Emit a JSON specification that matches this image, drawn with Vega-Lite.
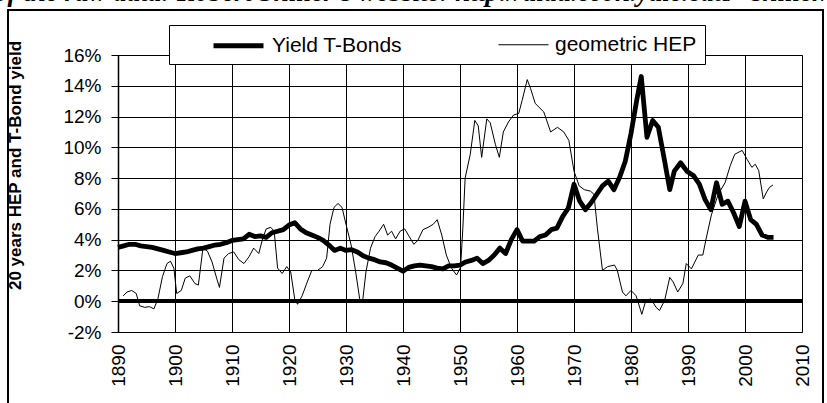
{
  "$schema": "https://vega.github.io/schema/vega-lite/v6.json",
  "width": 684,
  "height": 277,
  "autosize": {"type": "none"},
  "padding": {"left": 118, "top": 55, "right": 25, "bottom": 71},
  "background": "white",
  "title": {
    "text": "of the raw data: Robert Shiller's website: http://aida.econ.yale.edu/~shiller/data.htm",
    "anchor": "start",
    "frame": "bounds",
    "font": "Liberation Serif",
    "fontStyle": "italic",
    "fontWeight": "bold",
    "fontSize": 27,
    "color": "#000",
    "offset": 0,
    "dx": -12,
    "dy": -3
  },
  "data": {
    "values": [
      {"year": 1890, "value": 3.5, "series": "Yield T-Bonds"},
      {"year": 1891, "value": 3.6, "series": "Yield T-Bonds"},
      {"year": 1892, "value": 3.7, "series": "Yield T-Bonds"},
      {"year": 1893, "value": 3.7, "series": "Yield T-Bonds"},
      {"year": 1894, "value": 3.6, "series": "Yield T-Bonds"},
      {"year": 1895, "value": 3.55, "series": "Yield T-Bonds"},
      {"year": 1896, "value": 3.5, "series": "Yield T-Bonds"},
      {"year": 1897, "value": 3.4, "series": "Yield T-Bonds"},
      {"year": 1898, "value": 3.3, "series": "Yield T-Bonds"},
      {"year": 1899, "value": 3.2, "series": "Yield T-Bonds"},
      {"year": 1900, "value": 3.1, "series": "Yield T-Bonds"},
      {"year": 1901, "value": 3.15, "series": "Yield T-Bonds"},
      {"year": 1902, "value": 3.2, "series": "Yield T-Bonds"},
      {"year": 1903, "value": 3.3, "series": "Yield T-Bonds"},
      {"year": 1904, "value": 3.4, "series": "Yield T-Bonds"},
      {"year": 1905, "value": 3.45, "series": "Yield T-Bonds"},
      {"year": 1906, "value": 3.55, "series": "Yield T-Bonds"},
      {"year": 1907, "value": 3.65, "series": "Yield T-Bonds"},
      {"year": 1908, "value": 3.7, "series": "Yield T-Bonds"},
      {"year": 1909, "value": 3.8, "series": "Yield T-Bonds"},
      {"year": 1910, "value": 3.95, "series": "Yield T-Bonds"},
      {"year": 1911, "value": 4.0, "series": "Yield T-Bonds"},
      {"year": 1912, "value": 4.05, "series": "Yield T-Bonds"},
      {"year": 1913, "value": 4.35, "series": "Yield T-Bonds"},
      {"year": 1914, "value": 4.2, "series": "Yield T-Bonds"},
      {"year": 1915, "value": 4.25, "series": "Yield T-Bonds"},
      {"year": 1916, "value": 4.15, "series": "Yield T-Bonds"},
      {"year": 1917, "value": 4.45, "series": "Yield T-Bonds"},
      {"year": 1918, "value": 4.55, "series": "Yield T-Bonds"},
      {"year": 1919, "value": 4.65, "series": "Yield T-Bonds"},
      {"year": 1920, "value": 4.95, "series": "Yield T-Bonds"},
      {"year": 1921, "value": 5.1, "series": "Yield T-Bonds"},
      {"year": 1922, "value": 4.7, "series": "Yield T-Bonds"},
      {"year": 1923, "value": 4.45, "series": "Yield T-Bonds"},
      {"year": 1924, "value": 4.3, "series": "Yield T-Bonds"},
      {"year": 1925, "value": 4.15, "series": "Yield T-Bonds"},
      {"year": 1926, "value": 3.95, "series": "Yield T-Bonds"},
      {"year": 1927, "value": 3.65, "series": "Yield T-Bonds"},
      {"year": 1928, "value": 3.3, "series": "Yield T-Bonds"},
      {"year": 1929, "value": 3.45, "series": "Yield T-Bonds"},
      {"year": 1930, "value": 3.3, "series": "Yield T-Bonds"},
      {"year": 1931, "value": 3.35, "series": "Yield T-Bonds"},
      {"year": 1932, "value": 3.2, "series": "Yield T-Bonds"},
      {"year": 1933, "value": 2.95, "series": "Yield T-Bonds"},
      {"year": 1934, "value": 2.8, "series": "Yield T-Bonds"},
      {"year": 1935, "value": 2.7, "series": "Yield T-Bonds"},
      {"year": 1936, "value": 2.55, "series": "Yield T-Bonds"},
      {"year": 1937, "value": 2.5, "series": "Yield T-Bonds"},
      {"year": 1938, "value": 2.35, "series": "Yield T-Bonds"},
      {"year": 1939, "value": 2.15, "series": "Yield T-Bonds"},
      {"year": 1940, "value": 1.95, "series": "Yield T-Bonds"},
      {"year": 1941, "value": 2.2, "series": "Yield T-Bonds"},
      {"year": 1942, "value": 2.3, "series": "Yield T-Bonds"},
      {"year": 1943, "value": 2.35, "series": "Yield T-Bonds"},
      {"year": 1944, "value": 2.3, "series": "Yield T-Bonds"},
      {"year": 1945, "value": 2.25, "series": "Yield T-Bonds"},
      {"year": 1946, "value": 2.15, "series": "Yield T-Bonds"},
      {"year": 1947, "value": 2.1, "series": "Yield T-Bonds"},
      {"year": 1948, "value": 2.3, "series": "Yield T-Bonds"},
      {"year": 1949, "value": 2.3, "series": "Yield T-Bonds"},
      {"year": 1950, "value": 2.35, "series": "Yield T-Bonds"},
      {"year": 1951, "value": 2.55, "series": "Yield T-Bonds"},
      {"year": 1952, "value": 2.65, "series": "Yield T-Bonds"},
      {"year": 1953, "value": 2.8, "series": "Yield T-Bonds"},
      {"year": 1954, "value": 2.45, "series": "Yield T-Bonds"},
      {"year": 1955, "value": 2.65, "series": "Yield T-Bonds"},
      {"year": 1956, "value": 3.0, "series": "Yield T-Bonds"},
      {"year": 1957, "value": 3.45, "series": "Yield T-Bonds"},
      {"year": 1958, "value": 3.1, "series": "Yield T-Bonds"},
      {"year": 1959, "value": 4.0, "series": "Yield T-Bonds"},
      {"year": 1960, "value": 4.65, "series": "Yield T-Bonds"},
      {"year": 1961, "value": 3.9, "series": "Yield T-Bonds"},
      {"year": 1962, "value": 3.9, "series": "Yield T-Bonds"},
      {"year": 1963, "value": 3.9, "series": "Yield T-Bonds"},
      {"year": 1964, "value": 4.2, "series": "Yield T-Bonds"},
      {"year": 1965, "value": 4.3, "series": "Yield T-Bonds"},
      {"year": 1966, "value": 4.65, "series": "Yield T-Bonds"},
      {"year": 1967, "value": 4.75, "series": "Yield T-Bonds"},
      {"year": 1968, "value": 5.5, "series": "Yield T-Bonds"},
      {"year": 1969, "value": 6.05, "series": "Yield T-Bonds"},
      {"year": 1970, "value": 7.6, "series": "Yield T-Bonds"},
      {"year": 1971, "value": 6.5, "series": "Yield T-Bonds"},
      {"year": 1972, "value": 5.95, "series": "Yield T-Bonds"},
      {"year": 1973, "value": 6.4, "series": "Yield T-Bonds"},
      {"year": 1974, "value": 6.95, "series": "Yield T-Bonds"},
      {"year": 1975, "value": 7.5, "series": "Yield T-Bonds"},
      {"year": 1976, "value": 7.8, "series": "Yield T-Bonds"},
      {"year": 1977, "value": 7.25, "series": "Yield T-Bonds"},
      {"year": 1978, "value": 8.05, "series": "Yield T-Bonds"},
      {"year": 1979, "value": 9.1, "series": "Yield T-Bonds"},
      {"year": 1980, "value": 10.9, "series": "Yield T-Bonds"},
      {"year": 1981, "value": 13.05, "series": "Yield T-Bonds"},
      {"year": 1981.8, "value": 14.6, "series": "Yield T-Bonds"},
      {"year": 1982.8, "value": 10.65, "series": "Yield T-Bonds"},
      {"year": 1983.8, "value": 11.75, "series": "Yield T-Bonds"},
      {"year": 1984.8, "value": 11.3, "series": "Yield T-Bonds"},
      {"year": 1985.9, "value": 9.1, "series": "Yield T-Bonds"},
      {"year": 1986.8, "value": 7.25, "series": "Yield T-Bonds"},
      {"year": 1987.6, "value": 8.45, "series": "Yield T-Bonds"},
      {"year": 1988.7, "value": 9.0, "series": "Yield T-Bonds"},
      {"year": 1989.8, "value": 8.45, "series": "Yield T-Bonds"},
      {"year": 1991, "value": 8.15, "series": "Yield T-Bonds"},
      {"year": 1992, "value": 7.6, "series": "Yield T-Bonds"},
      {"year": 1993, "value": 6.6, "series": "Yield T-Bonds"},
      {"year": 1994, "value": 5.95, "series": "Yield T-Bonds"},
      {"year": 1995, "value": 7.7, "series": "Yield T-Bonds"},
      {"year": 1996, "value": 6.3, "series": "Yield T-Bonds"},
      {"year": 1997, "value": 6.5, "series": "Yield T-Bonds"},
      {"year": 1998, "value": 5.75, "series": "Yield T-Bonds"},
      {"year": 1999, "value": 4.85, "series": "Yield T-Bonds"},
      {"year": 2000, "value": 6.5, "series": "Yield T-Bonds"},
      {"year": 2001, "value": 5.3, "series": "Yield T-Bonds"},
      {"year": 2002, "value": 5.0, "series": "Yield T-Bonds"},
      {"year": 2003, "value": 4.3, "series": "Yield T-Bonds"},
      {"year": 2004, "value": 4.15, "series": "Yield T-Bonds"},
      {"year": 2005, "value": 4.15, "series": "Yield T-Bonds"},
      {"year": 1890.9, "value": 0.35, "series": "geometric HEP"},
      {"year": 1891.6, "value": 0.6, "series": "geometric HEP"},
      {"year": 1892.4, "value": 0.7, "series": "geometric HEP"},
      {"year": 1893.2, "value": 0.5, "series": "geometric HEP"},
      {"year": 1893.8, "value": -0.3, "series": "geometric HEP"},
      {"year": 1894.7, "value": -0.4, "series": "geometric HEP"},
      {"year": 1895.5, "value": -0.35, "series": "geometric HEP"},
      {"year": 1896.3, "value": -0.5, "series": "geometric HEP"},
      {"year": 1897, "value": 0.15, "series": "geometric HEP"},
      {"year": 1897.8, "value": 1.6, "series": "geometric HEP"},
      {"year": 1898.6, "value": 2.45, "series": "geometric HEP"},
      {"year": 1899.2, "value": 2.6, "series": "geometric HEP"},
      {"year": 1899.8, "value": 2.15, "series": "geometric HEP"},
      {"year": 1900.3, "value": 0.5, "series": "geometric HEP"},
      {"year": 1901.1, "value": 0.7, "series": "geometric HEP"},
      {"year": 1901.8, "value": 1.5, "series": "geometric HEP"},
      {"year": 1902.6, "value": 1.65, "series": "geometric HEP"},
      {"year": 1903.5, "value": 1.15, "series": "geometric HEP"},
      {"year": 1904.1, "value": 1.05, "series": "geometric HEP"},
      {"year": 1904.9, "value": 3.45, "series": "geometric HEP"},
      {"year": 1905.7, "value": 3.25, "series": "geometric HEP"},
      {"year": 1906.5, "value": 2.55, "series": "geometric HEP"},
      {"year": 1907.3, "value": 1.5, "series": "geometric HEP"},
      {"year": 1907.8, "value": 0.9, "series": "geometric HEP"},
      {"year": 1908.6, "value": 2.8, "series": "geometric HEP"},
      {"year": 1909.4, "value": 3.1, "series": "geometric HEP"},
      {"year": 1910.3, "value": 3.2, "series": "geometric HEP"},
      {"year": 1911.2, "value": 2.7, "series": "geometric HEP"},
      {"year": 1912.1, "value": 2.45, "series": "geometric HEP"},
      {"year": 1913, "value": 2.9, "series": "geometric HEP"},
      {"year": 1913.8, "value": 3.45, "series": "geometric HEP"},
      {"year": 1914.7, "value": 3.1, "series": "geometric HEP"},
      {"year": 1915.4, "value": 4.1, "series": "geometric HEP"},
      {"year": 1916, "value": 4.7, "series": "geometric HEP"},
      {"year": 1916.8, "value": 4.8, "series": "geometric HEP"},
      {"year": 1917.4, "value": 4.55, "series": "geometric HEP"},
      {"year": 1918, "value": 2.15, "series": "geometric HEP"},
      {"year": 1918.8, "value": 1.8, "series": "geometric HEP"},
      {"year": 1919.6, "value": 2.25, "series": "geometric HEP"},
      {"year": 1920.3, "value": 1.9, "series": "geometric HEP"},
      {"year": 1921, "value": 0.15, "series": "geometric HEP"},
      {"year": 1921.5, "value": -0.2, "series": "geometric HEP"},
      {"year": 1922.3, "value": 0.35, "series": "geometric HEP"},
      {"year": 1923.2, "value": 1.25, "series": "geometric HEP"},
      {"year": 1924, "value": 2.0, "series": "geometric HEP"},
      {"year": 1925, "value": 2.0, "series": "geometric HEP"},
      {"year": 1925.9, "value": 2.25, "series": "geometric HEP"},
      {"year": 1926.6, "value": 2.8, "series": "geometric HEP"},
      {"year": 1927.2, "value": 5.0, "series": "geometric HEP"},
      {"year": 1927.9, "value": 6.1, "series": "geometric HEP"},
      {"year": 1928.6, "value": 6.35, "series": "geometric HEP"},
      {"year": 1929.3, "value": 6.1, "series": "geometric HEP"},
      {"year": 1930, "value": 5.0, "series": "geometric HEP"},
      {"year": 1930.9, "value": 3.65, "series": "geometric HEP"},
      {"year": 1931.7, "value": 1.9, "series": "geometric HEP"},
      {"year": 1932.4, "value": 0.15, "series": "geometric HEP"},
      {"year": 1932.9, "value": -0.05, "series": "geometric HEP"},
      {"year": 1933.5, "value": 1.9, "series": "geometric HEP"},
      {"year": 1934.3, "value": 3.45, "series": "geometric HEP"},
      {"year": 1935.1, "value": 4.2, "series": "geometric HEP"},
      {"year": 1935.8, "value": 4.55, "series": "geometric HEP"},
      {"year": 1936.6, "value": 5.0, "series": "geometric HEP"},
      {"year": 1937.3, "value": 4.3, "series": "geometric HEP"},
      {"year": 1938, "value": 4.55, "series": "geometric HEP"},
      {"year": 1938.7, "value": 4.05, "series": "geometric HEP"},
      {"year": 1939.5, "value": 4.55, "series": "geometric HEP"},
      {"year": 1940.3, "value": 4.7, "series": "geometric HEP"},
      {"year": 1941.1, "value": 4.2, "series": "geometric HEP"},
      {"year": 1941.9, "value": 3.7, "series": "geometric HEP"},
      {"year": 1942.6, "value": 3.95, "series": "geometric HEP"},
      {"year": 1943.5, "value": 4.65, "series": "geometric HEP"},
      {"year": 1944.4, "value": 4.8, "series": "geometric HEP"},
      {"year": 1945.3, "value": 5.0, "series": "geometric HEP"},
      {"year": 1946, "value": 5.3, "series": "geometric HEP"},
      {"year": 1946.8, "value": 4.3, "series": "geometric HEP"},
      {"year": 1947.6, "value": 3.0, "series": "geometric HEP"},
      {"year": 1948.5, "value": 2.15, "series": "geometric HEP"},
      {"year": 1949.4, "value": 1.7, "series": "geometric HEP"},
      {"year": 1950.1, "value": 2.2, "series": "geometric HEP"},
      {"year": 1950.5, "value": 4.75, "series": "geometric HEP"},
      {"year": 1950.9, "value": 8.0, "series": "geometric HEP"},
      {"year": 1951.8, "value": 9.55, "series": "geometric HEP"},
      {"year": 1952.6, "value": 11.75, "series": "geometric HEP"},
      {"year": 1953.2, "value": 11.4, "series": "geometric HEP"},
      {"year": 1953.8, "value": 9.35, "series": "geometric HEP"},
      {"year": 1954.7, "value": 11.85, "series": "geometric HEP"},
      {"year": 1955.3, "value": 11.6, "series": "geometric HEP"},
      {"year": 1956.2, "value": 10.2, "series": "geometric HEP"},
      {"year": 1956.9, "value": 9.35, "series": "geometric HEP"},
      {"year": 1957.6, "value": 11.0, "series": "geometric HEP"},
      {"year": 1958.5, "value": 11.65, "series": "geometric HEP"},
      {"year": 1959.4, "value": 12.1, "series": "geometric HEP"},
      {"year": 1960.3, "value": 12.2, "series": "geometric HEP"},
      {"year": 1960.9, "value": 13.05, "series": "geometric HEP"},
      {"year": 1961.8, "value": 14.4, "series": "geometric HEP"},
      {"year": 1962.4, "value": 13.8, "series": "geometric HEP"},
      {"year": 1963.2, "value": 12.85, "series": "geometric HEP"},
      {"year": 1964.7, "value": 12.3, "series": "geometric HEP"},
      {"year": 1965.9, "value": 11.0, "series": "geometric HEP"},
      {"year": 1967.1, "value": 11.3, "series": "geometric HEP"},
      {"year": 1968.2, "value": 11.0, "series": "geometric HEP"},
      {"year": 1969.1, "value": 10.45, "series": "geometric HEP"},
      {"year": 1970, "value": 8.45, "series": "geometric HEP"},
      {"year": 1970.9, "value": 7.5, "series": "geometric HEP"},
      {"year": 1971.8, "value": 7.25, "series": "geometric HEP"},
      {"year": 1972.9, "value": 7.15, "series": "geometric HEP"},
      {"year": 1973.5, "value": 6.95, "series": "geometric HEP"},
      {"year": 1974.1, "value": 4.75, "series": "geometric HEP"},
      {"year": 1975, "value": 2.0, "series": "geometric HEP"},
      {"year": 1975.9, "value": 2.25, "series": "geometric HEP"},
      {"year": 1977.1, "value": 2.35, "series": "geometric HEP"},
      {"year": 1977.6, "value": 2.0, "series": "geometric HEP"},
      {"year": 1978.5, "value": 0.6, "series": "geometric HEP"},
      {"year": 1979.1, "value": 0.35, "series": "geometric HEP"},
      {"year": 1980, "value": 0.7, "series": "geometric HEP"},
      {"year": 1980.9, "value": 0.35, "series": "geometric HEP"},
      {"year": 1981.9, "value": -0.85, "series": "geometric HEP"},
      {"year": 1982.6, "value": 0.05, "series": "geometric HEP"},
      {"year": 1983.5, "value": 0.15, "series": "geometric HEP"},
      {"year": 1984.4, "value": -0.4, "series": "geometric HEP"},
      {"year": 1985, "value": -0.6, "series": "geometric HEP"},
      {"year": 1985.9, "value": 0.05, "series": "geometric HEP"},
      {"year": 1986.8, "value": 1.55, "series": "geometric HEP"},
      {"year": 1987.4, "value": 1.25, "series": "geometric HEP"},
      {"year": 1988.2, "value": 0.6, "series": "geometric HEP"},
      {"year": 1989.1, "value": 1.15, "series": "geometric HEP"},
      {"year": 1989.7, "value": 2.45, "series": "geometric HEP"},
      {"year": 1990.6, "value": 2.1, "series": "geometric HEP"},
      {"year": 1991.8, "value": 3.0, "series": "geometric HEP"},
      {"year": 1992.6, "value": 3.0, "series": "geometric HEP"},
      {"year": 1993.2, "value": 4.1, "series": "geometric HEP"},
      {"year": 1994.1, "value": 5.6, "series": "geometric HEP"},
      {"year": 1995.3, "value": 6.95, "series": "geometric HEP"},
      {"year": 1996.5, "value": 7.7, "series": "geometric HEP"},
      {"year": 1997.4, "value": 8.8, "series": "geometric HEP"},
      {"year": 1998.2, "value": 9.55, "series": "geometric HEP"},
      {"year": 1999.5, "value": 9.8, "series": "geometric HEP"},
      {"year": 2000.4, "value": 9.2, "series": "geometric HEP"},
      {"year": 2001.2, "value": 8.7, "series": "geometric HEP"},
      {"year": 2001.8, "value": 8.9, "series": "geometric HEP"},
      {"year": 2002.4, "value": 8.5, "series": "geometric HEP"},
      {"year": 2003.2, "value": 6.65, "series": "geometric HEP"},
      {"year": 2003.8, "value": 7.1, "series": "geometric HEP"},
      {"year": 2004.3, "value": 7.4, "series": "geometric HEP"},
      {"year": 2004.9, "value": 7.55, "series": "geometric HEP"}
    ]
  },
  "layer": [
    {
      "mark": {"type": "rect", "filled": false, "stroke": "#000", "strokeWidth": 1.5, "clip": false},
      "encoding": {
        "x": {"datum": 1870.7, "type": "quantitative"},
        "x2": {"datum": 2013.7},
        "y": {"datum": 18.9, "type": "quantitative"},
        "y2": {"datum": -12}
      }
    },
    {
      "mark": {"type": "rule", "stroke": "#000", "strokeWidth": 3},
      "encoding": {"y": {"datum": 0, "type": "quantitative"}}
    },
    {
      "mark": {"type": "line", "strokeJoin": "round"},
      "encoding": {
        "x": {
          "field": "year",
          "type": "quantitative",
          "scale": {"domain": [1890, 2010], "nice": false, "zero": false},
          "axis": {
            "values": [1890, 1900, 1910, 1920, 1930, 1940, 1950, 1960, 1970, 1980, 1990, 2000, 2010],
            "tickCount": 13,
            "format": "d",
            "grid": true,
            "labelAngle": 270,
            "labelPadding": 12,
            "labelOverlap": false,
            "domain": false,
            "ticks": false,
            "title": null
          }
        },
        "y": {
          "field": "value",
          "type": "quantitative",
          "scale": {"domain": [-2, 16], "nice": false, "zero": false},
          "axis": {
            "values": [-2, 0, 2, 4, 6, 8, 10, 12, 14, 16],
            "tickCount": 10,
            "labelExpr": "datum.value + '%'",
            "grid": true,
            "labelOverlap": false,
            "tickSize": 7,
            "labelPadding": 10,
            "title": "20 years HEP and T-Bond yield",
            "titleFontWeight": "bold",
            "titleFontSize": 17,
            "titleX": -103,
            "titleY": 110,
            "titleAngle": 270,
            "titleAlign": "center",
            "titleBaseline": "middle"
          }
        },
        "color": {
          "field": "series",
          "type": "nominal",
          "scale": {"domain": ["Yield T-Bonds", "geometric HEP"], "range": ["#000", "#000"]},
          "title": null,
          "legend": {"encode": {"legend": {"update": {"width": {"value": 588}}}}}
        },
        "strokeWidth": {
          "field": "series",
          "type": "nominal",
          "scale": {"domain": ["Yield T-Bonds", "geometric HEP"], "range": [4.8, 1]},
          "title": null,
          "legend": {"encode": {"legend": {"update": {"width": {"value": 588}}}}}
        }
      }
    }
  ],
  "config": {
    "view": {"stroke": "#808080", "strokeWidth": 1},
    "axis": {
      "labelFont": "Liberation Sans",
      "labelFontSize": 19,
      "labelColor": "#000",
      "titleFont": "Liberation Sans",
      "titleColor": "#000",
      "gridColor": "#000",
      "gridWidth": 1,
      "gridOpacity": 1,
      "domainColor": "#000",
      "domainWidth": 1.5,
      "tickColor": "#000"
    },
    "axisY": {"grid": true, "gridColor": "#000"},
    "legend": {
      "orient": "none",
      "legendX": 51,
      "legendY": -30,
      "direction": "horizontal",
      "fillColor": "#fff",
      "strokeColor": "#000",
      "padding": 8,
      "symbolType": "M-2.5,0H2.5",
      "symbolSize": 400,
      "symbolOffset": 49,
      "symbolStrokeColor": "#000",
      "symbolFillColor": "transparent",
      "labelFont": "Liberation Sans",
      "labelFontSize": 21,
      "labelColor": "#000",
      "labelOffset": 21,
      "labelLimit": 400,
      "columnPadding": 62
    }
  }
}
